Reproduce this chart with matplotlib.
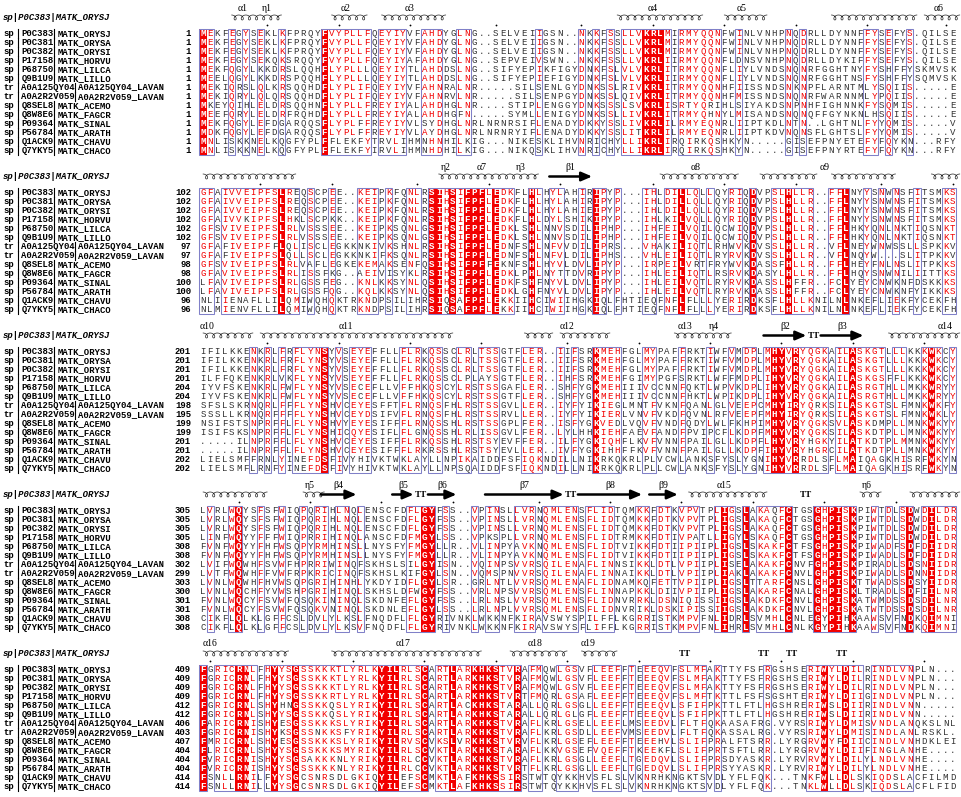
import matplotlib
matplotlib.use('Agg')
import matplotlib.pyplot as plt
from matplotlib.patches import Rectangle
import numpy as np

# ---------------- data ----------------
db = ['sp', 'sp', 'sp', 'sp', 'sp', 'sp', 'tr', 'tr', 'sp', 'sp', 'sp', 'sp', 'sp', 'sp']
acc = ['P0C383', 'P0C381', 'P0C382', 'P17158', 'P68750', 'Q9B1U9', 'A0A125QY04',
       'A0A2R2V059', 'Q8SEL8', 'Q8W8E6', 'P09364', 'P56784', 'Q1ACK9', 'Q7YKY5']
entry = ['MATK_ORYSJ', 'MATK_ORYSA', 'MATK_ORYSI', 'MATK_HORVU', 'MATK_LILCA', 'MATK_LILLO',
         'A0A125QY04_LAVAN', 'A0A2R2V059_LAVAN', 'MATK_ACEMO', 'MATK_FAGCR', 'MATK_SINAL',
         'MATK_ARATH', 'MATK_CHAVU', 'MATK_CHACO']
header = 'sp|P0C383|MATK_ORYSJ'

starts = [
    [1] * 14,
    [102, 102, 102, 102, 102, 102, 97, 97, 98, 98, 100, 100, 96, 96],
    [201, 201, 201, 201, 204, 204, 198, 195, 199, 199, 201, 201, 202, 202],
    [305, 305, 305, 305, 308, 308, 302, 299, 303, 300, 301, 301, 308, 308],
    [409, 409, 409, 409, 412, 412, 406, 403, 407, 404, 404, 404, 414, 414],
]

block1 = [
    "MEKFEGYSEKLKFPRQY" + "FVYPLLFQEYIYVFAHDYGLNG..SELVEIIGSN..NKKFSSLLVK" + "RLMIRMYQQNFWINLVNHPNQDRLLDYNNFFYSEFYS.QILSE",
    "MEKFEGYSEKLKFPRQY" + "FVYPLLFQEYIYVFAHDYGLNG..SELVEIIGSN..NKKFSSLLVK" + "RLMIRMYQQNFWINLVNHPNQDRLLDYNNFFYSEFYS.QILSE",
    "MEKFEGYSEKLKFPRQY" + "FVYPLLFQEYIYVFAHDYGLNG..SELVEIIGSN..NKKFSSLLVK" + "RLMIRMYQQNFWINLVNHPNQDRLLDYNNFFYSEFYS.QILSE",
    "MEKFEGYSEKQKSRQQY" + "FVYPLLFQEYIYAFAHDYGLNG..SEPVEIVSWN..NKKFSSLLVK" + "RLIIRMYQQNFLDNSVNHPNQDRLLDYKIFFYSEFYS.QILSE",
    "MEKFQGYLKKDRSLQQH" + "FLYPLLLQEYIYTLAHDDSLNG..SIFYEPIKFIGYDNKFSLVLVK" + "RLITRMYQQNFLIYLVNDSNQNRFGGHTNYFYSHFFYSKMVSK",
    "MEELQGYLKKDRSPQQH" + "FLYPLLLQEYIYTLAHDDSLNG..SIFYEPIEFIGYDNKFSLVLVK" + "RLIIRMYQQNFLIYLVNDSNQNRFGGHTNSFYSHFFYSQMVSK",
    "MEKIQRSLQLKRSQQHD" + "FLYPLIFQEYIYVFAHNRALNR.....SILSENLGYDNKSSLRIVK" + "RLITRMYQQNHFIISSNDSNKNPFLARNTMLYSQIIS.....E",
    "MEKIQRYLQLQRSQQHD" + "FLYPLIFQEYIYVFAHNRVLNR.....SILSENPGYDNKSSLQIVK" + "RLITRMYQQNHFMISSNDSNQNRFWARNNMLYPQIIS.....E",
    "MKEYQIHLELDRSQQHN" + "FLYPLLFREYIYALAHDHGLNR....STIPLENGGYDNKSSSLSVK" + "RLISRTYQRIHLSIYAKDSNPNHFIGHNNKFYSQMIS.....E",
    "MEEFQRYLELDRFRQHD" + "FLYPLLFREYIYALAHDHGFN.....SYMLLENIGYDNKSSLLIVK" + "RLITRMYQHNYLMISANDSNQNQFFGYNKNLHSQIIS.....E",
    "MEKFQGYLEFDGARQQS" + "FLYPLFFREYIYVLSYDHGLNRLNRNRSIFLENADYDKKYSSLIVK" + "RLILRMYEQNRLIIPTKDLNTN..LGHTNLFYYQMIS.....V",
    "MDKFQGYLEFDGARQQS" + "FLYPLFFREYIYVLAYDHGLNRLNRNRYIFLENADYDKKYSSLITK" + "RLILRMYEQNRLIIPTKDVNQNSFLGHTSLFYYQMIS.....V",
    "MNLISKKNELKQGFYPL" + "FFLEKFYTRVLIHMNHNHILKIG...NIKESKLIHVNRICHYLLIK" + "RLIRQIRKQSHKYN.....GISEFPNYETEFYFQYKN...RFY",
    "MNLISKKNELKQGFYPL" + "FFLEKFYIRVLIHMNHDHILKIG...NIKQSKLIHVNRICHYLLIK" + "RLIRQIRKQSHKYN.....GISEFPNYRTEFYFQYKN...RFY",
]

block2 = [
    "GFAIVVEIPFSLREQSCPEE..KEIPKFQNLRSIHSIFPFLEDKFLHLHYLAHI" + "RIPYP...IHLDILLQLLQYRIQDVPSLHLLR..FFLNYYSNWNSFITSMKS",
    "GFAIVVEIPFSLREQSCPEE..KEIPKFQNLRSIHSIFPFLEDKFLHLHYLAHI" + "RIPYP...IHLDILLQLLQYRIQDVPSLHLLR..FFLNYYSNWNSFITSMKS",
    "GFAIVVEIPFSLREQSCPEE..KEIPKFQNLRSIHSIFPFLEDKFLHLHYLAHI" + "EIPYP...IHLDILLQLLQYRIQDVPSLHLLR..FFLNYYSNWNSFITSMKS",
    "GFAIVVKIPFSLHKLSCPKK..KEIPKFQNLRSIHSIFPFLEDKFLHLDYLSHI" + "KIPYP...IHLKILVQLLQYRIQDVPSLHLLR..FFLNYYSNWNSFITSMKS",
    "GFSVIVEIPFSLRLVSSSEE..KEIPKSQNLGSIHSIFPFLEDKLSHLNNVSDI" + "LIPHP...IHFEILVQILQCWIQDVPSLHLLR..FFLHKYQNLNKTIQSNKT",
    "GFSVIVEIPFSLRLVSSSEE..KEIPKSQNLGSIHSIFPFLEDKLSHLNNVSDI" + "LIPHP...IHFEILVQILQCWIQDVPSLHLLR..FFLHKYQNLNKTIQSNKT",
    "GFAFIVEIPFFLQLISCLEGKKNKIVKSHNLRSIHSIFPFLEDNFSHLNFVVDI" + "LIPRS...VHAKILIQTLRHWVKDVSSLHLLR..VFLNEYWNWSSLLSPKKV",
    "GFAFIVEIPFSLQLLSCLEGKKNKIFKSQNLRSIHSIFPFLEDNFSHLNFVLDI" + "LIPHS...VHLEILIQTLRYRVKDVSSLHLLR..VFLNQYW...SLITPKKV",
    "GFSVIVEIPFSLRLVAFLEGKEKEMAKSENFQSIHSIFPFFEKNFSHLHYVLDV" + "LIPYP...IRPEILVRTFRYWVKDASSFHLLR..FFLHEYFNLNSLITPKKS",
    "GFAVIVEIPFSLRLISSFKG..AEIVISYKLRSIHSIFPFLEDKLPHLNYTTDV" + "RIPYP...IHLEILIQTLRSRVKDASYLHLLR..FFLHQYSNWNILIITTKS",
    "LFAVIVEIPFSLRLGSSFEG..KNLKKSYNLQSIHSIFPFLEDKFSHFNYVLDV" + "LIPYP...IHLEILVQTLRYRVKDASSLHFFR..FCLYEYCNWKNFDSKKKS",
    "LFAVIVEIPFSLRLGSSFQG..KQLKKSYNLQSIHSIFPFLEDKLGHFNYVLDV" + "LIPYP...IHLEILVQTLRYRVKDASSLHFFR..FCLYEYCNWKNFYIKKKS",
    "NLIIENAFLLILQMIWQHQKTRKNDPSILIHRSIQSAFPFLEKKIIHCIWIIHG" + "KIQLFHTIEQFNFLFLLLYERIRDKSFLHLLKNILNLNKEFLIEKFYCEKFH",
    "NLMIENVFLLILQMIWQHQKTRKNDPSILIHRSIQSAFPFLEKKIIHCIWIIHG" + "KIQLFHTIEQFNFLFLLLYERIRDKSFLHLLKNILNLNKEFLIEKFYCEKFH",
]

block3 = [
    "IFILKKENKRLFRFLYNSYVSEYEFFLLFLRKQSSCLRLTSSGTFLER..IIFS" + "RKMEHFGLMYPAFFRKTIWFVMDPLMHYVRYQGKAILASKGTLLLKKKWKCY",
    "IFILKKENKRLFRFLYNSYVSEYEFFLLFLRKQSSCLRLTSSGTFLER..IIFS" + "RKMEHFGLMYPAFFRKTIWFVMDPLMHYVRYQGKAILASKGTLLLKKKWKCY",
    "IFILKKENKRLFRFLYNSYVSEYEFFLLFLRKQSSCLRLTSSGTFLER..IIFS" + "RKMEHFGLMYPAFFRKTIWFVMDPLMHYVRYQGKAILASKGTLLLKKKWKCY",
    "ILFFQKENKRLVKFLYNSYVSEYEFFLLFLRKQSSCLPLAYSGTFLER..IHFS" + "RKMEHFGIMYPGFSRKTLWFFMDPLIHYVRYQGKAILASKGSFFLKKKWKCY",
    "IYVFSKENKRLFWFLYNSYVSECEFLLVFFHKQSCYLRSTSSGAFLER..SHFY" + "GKMEHIIIVCCNNFQKTLWPVKDPLIHYVRYQGKAILASRGTHLLMKKWRYY",
    "IYVFSKENKRLFWFLYNSYVSECEFLLVFFHKQSCYLRSTSSGTFLER..SHFY" + "GKMEHIIIVCCNNFHKTLWPIKDPLIHYVRYQGKAILASRGTHLLMKKWRYY",
    "SFSLSKRNQRLFFFLYNSHVCEYESFFTFLRNQSFHLRSTSSGVLLER..IYFY" + "IKIEGLMNTFVKNFQANLGLVEEPCMHYIRYQRKSILASKGTSLFMNKWKFY",
    "SSSLLKRNQRFFFFLYNSHVCEYDSIFVFLRNQSFHLRSTSSRVLLER..IYFY" + "IKIERLVNVFVKDFQVNLRFVEEPFMHYIRYQRKSILASKGTSLFMNKWKLY",
    "NSIFSTSNPRFFLFLYNSHVYEYESIFFFLRNQSSHLRSTSSGPLFER..ISFY" + "GKVEDLVQVFVNDFQDYLWLFKHPIMHYVRYQGKSVLASKDMPLLMNKWKYY",
    "ISIFSKSNPRFFLFLYNSHICQYESIFLFLGNQSSHLRLISSGVLFER..LYLH" + "HKIEHFAEVFANDFPVIPCFLKDPFMHYVRYQGKSILASKDTPLLMNKWKYY",
    ".....ILNPRFFLFLYNSHVCEYESIFFFLRKQSSHLRSTSYEVFFER..ILFY" + "GKIQHFLKVFVNNFPAILGLLKDPFLHYVRYHGKYILATKDTPLMMNKWKYY",
    ".....ILNPRFFLFLYNSHVCEYESIFFFLRKRSSHLRSTSYEVLLER..IVFY" + "GKIHHFFKVFVNNFPAILGLLKDPFIHYVRYHGRCILATKDTPLLMNKWKYY",
    "LIELSMFFRNLYINEFDSFIVYHIVKTWKLAYLLNPIKAIDDFSFIQKNDILLN" + "IKRKQKRLPLVCWLANKSFYSLYGNIHYVRRDLSFLMAIQAGKHISRFWKYN",
    "LIELSMFLRNFYINEFDSFIVYHIVKTWKLAYLLNPSQAIDDFSFIQKNDILLN" + "IKRKQKRLPLLCWLANKSFYSLYGNIHYVRRDLSFLMAIQAGKHISRFWKYN",
]

block4 = [
    "LVRLWQYSFSFWIQPQRIHLNQLENSCFDFLGYFSS..VPINSLLVRNQMLENS" + "FLIDTQMKKFDTKVPVTPLIGSLAKAQFCTGSGHPISKPIWTDLSDWDILDR",
    "LVRLWQYSFSFWIQPQRIHLNQLENSCFDFLGYFSS..VPINSLLVRNQMLENS" + "FLIDTQMKKFDTKVPVTPLIGSLAKAQFCTGSGHPISKPIWTDLSDWDILDR",
    "LVRLWQYSFSFWIQPQRIHLNQLENSCFDFLGYFSS..VPINSLLVRNQMLENS" + "FLIDTQMKKFDTKVPVTPLIGSLAKAQFCTGSGHPISKPIWTDLSDWDILDR",
    "LINFWQYYFFFWIQPRRIHINQLANSCFDFMGYLSS..VPKSPLLVRNQMLENS" + "FLIDTRMKKFDTIVPATLLIGYLSKAQFCTGSGHPISKPIWTDLSDWDILDR",
    "FVNFWQYYFHFWSQPYRMHINSLLNYSFYFMGYLLR..VLINPYAVKNQMLENS" + "FLIDTVIKKFDTIIPIIPLIGSLSKAKFCTFSGHPISKPIWADFSDFDIIDR",
    "FVNFWQYYFHFWSQPYRMHINSLLNYSFYFMGYLLR..VLINPYAVKNQMLENS" + "FLIDTVIKKFDTIIPIIPLIGSLSKAKFCTFSGHPISKPIWADLSDFDIIDR",
    "LVIFWQWHFSVWFHPRRIWINQFSKHSLSILGYISN..VQINPSVVRSQILENA" + "FLINNSIKKLDTLVPIIPLISELAKAKFCNVFGHPISKPIRADLSDSNIIDR",
    "LVTFWQWHFFVWFRPKRICINQFSKHSLKIFGYLSN..VQMSPNVVRSQILENA" + "FLINNAIKKLDTLVPIIPLIAKLAKAKFCNVLGHPISKPIWADLSDNNIIDR",
    "LVNLWQWHFHVWSQPGRIHINHLYKDYIDFLGYLSR..GRLNTLVVRSQMLENA" + "FLIDNAMKQFETTVPIIPLIGSLTTARFCNSLGHPISKTTWADSSDSYIIDR",
    "LVNLWQCHFYVWSHPGRIHINQLSKHSLDFWGYFSS..VRLNPSVVRSQMLENS" + "FLINNAPKKLDIIVPIIPLIGSLAKARFCNALGHPISKLTRADLSDFIILNR",
    "FVNLWQCYFSVWFQSQKININQLSKDNFEFLGYFSS..LRLNSLVVRSQMLENS" + "FLIDNVRRKLDSNIQISSIIGSLAKDKFCNVLGHPISKATWMDSSDSDILNR",
    "FVNLWQCYFSVWFQSQKVNINQLSKDNLEFLGYLSS..LRLNPLVVRSQMLENS" + "FLIDNVRIKLDSKIPISSIIGSLAKDKFCNVLGHPISKATWTDSSDSDILNR",
    "CIKFLQLKLGFFCSLDVLYLKSLFNQDFLFLGYRIVNKLWKKNFKIRAVSWYSP" + "ILFFLKGRRISTKMPVFNLIDRLSVMHLCNLEGYPIHKAAWSVFNDKQIMNI",
    "CIKFLQLKLGFFCSLDVLYLKSVFNQDFLFLGYRIVNKLWKKNFKIRAVSWYSF" + "LIFFLKGRRISTKMPVFNLIHRLSVMHLCNLKGYPIHKAAWSVFNDKQIMNI",
]

block5 = [
    "FGRICRNLFHYYSGSSKKKTLYRLKYILRLSCARTLARKHKSTVRAFMQWLGSV" + "FLEEFFTEEEQVFSLMFAKTTYFSFRGSHSERIWYLDILRINDLVNPLN...",
    "FGRICRNLFHYYSGSSKKKTLYRLKYILRLSCARTLARKHKSTVRAFMQWLGSV" + "FLEEFFTEEEQVFSLMFAKTTYFSFRGSHSERIWYLDILRINDLVNPLN...",
    "FGRICRNLFHYYSGSSKKKTLYRLKYILRLSCARTLARKHKSTVRAFMQWLGSV" + "FLEEFFTEEEQVFSLMFAKTTYFSFRGSHSERIWYLDILRINDLVNPLN...",
    "FGRICRNLFHYYSGSSKKRTLYRLKYILRLSCARTLARKHKSTVRTFMQRLGSA" + "FLEEFFTEEEQVFSLMFTKTTLFSFSGSHTERIWYLDIIGINDLVNPLN...",
    "FGRICRNLSHYHNGSSKKQSLYRIKYILRLSCARTLACKHKSTARALLQRLGSG" + "LLEEFFTEEEQVLSFIFPKTTLFTLHGSHRERIWSLDIIRINDLVNN.....",
    "FGRICRNLSHYYSGSSKKQSLYRIKYILRLSCARTLARKHKSTARALLQRLGLG" + "FLEEFFTEEEQVLSFIFPKTTLFTLHGSHRERIWSLDIIRINDLVNN.....",
    "FARICRNISHYESGSSKKKSLYRIKYILRLSCARTLARKHKSTVRAFLKRLGSE" + "LLEEFLMSEEDVLFLTFQKAASAFRG.VYRSRIWYLDMISVNDLANQKSLNL",
    "FGRICRNISHYKSGSSNKKSFYRIKYILRLSCARTLARKHKSTVRAFLKRLGSD" + "LLEEFVMSEEDVLFLTFQKASSALRG.VYRSRIWYLDMISINDLANLRSKL.",
    "FMRICRNLSHYESGSSKKKSLYRIKYILRVSCVKSLVRKHKSTVRVFLKRLGSE" + "FLEEFFTEEEHVLSLIFPRALFTSRR.LYRGRVWYFDIICINDLVNHDKLEI",
    "FLRICRNLSHYYSGSSKKKSMYRIKYILRLSCVKTLARKHKSTARAFLKKVGSE" + "FVQEFFTKEEKFLSLIFPRTSFTLRR.LYRGRVWYLDIIFINGLANHE....",
    "FVRICRNISHYYSGSAKKKNLYRIKYILRLCCVKTLARKHKSTVRAFLKRLGSG" + "LLEEFLTGEDQVLSLIFPRSDYASKR.LYRVRVWYLDILYLNDLVNHE....",
    "FVRICRNISHYYSGSSKKKNLYRIKYILRLCCVKTLARKHKSTVRTFLKRLGSG" + "LLEEFLTGEDQVLSLIFPRSYYASKR.LYRVRIWYLDILYLNDLVNHE....",
    "FSNLLRNILFYYSGCSNRSDLGKIQYILEFSCMKTLAFKHKSSIRSTWTQYKKH" + "VSFLSLVKNRHKNGKTSVDLYFLFQK...TNKFWLLDLSKIQDSLACFILMD",
    "FSNLLRNILLYYSGCSNRSDLGKIQYILEFSCMKTLAFKHKSSIRSTWTQYKKH" + "VSFLSLVKNRHKNGKTSVDLYFLFQK...TNKLWLLDLSKIQDSLACFLFID",
]

blocks = [block1, block2, block3, block4, block5]

# secondary structure of the reference: (type, first column, last column, label, label column)
# H = alpha helix, G = 3-10 helix, E = strand, T = turn
ss1 = [('H', 4, 7, 'α1', None), ('G', 8, 10, 'η1', None), ('H', 18, 22, 'α2', None),
       ('H', 25, 33, 'α3', None), ('H', 58, 69, 'α4', 63), ('H', 73, 78, 'α5', None),
       ('H', 88, 99, '', None), ('H', 101, 105, 'α6', None)]
ss2 = [('H', 0, 12, '', None), ('G', 33, 35, 'η2', None), ('H', 36, 42, 'α7', None),
       ('G', 43, 46, 'η3', None), ('E', 49, 54, 'β1', None), ('H', 64, 74, 'α8', None),
       ('H', 78, 85, '', None), ('H', 88, 96, 'α9', 87), ('H', 102, 105, '', None)]
ss3 = [('H', 0, 6, 'α10', 0.5), ('H', 8, 34, 'α11', 20), ('H', 45, 48, '', None),
       ('H', 50, 56, 'α12', 51), ('H', 66, 69, 'α13', None), ('G', 70, 73, 'η4', None),
       ('E', 79, 84, 'β2', None), ('T', 85, 86, '', None), ('E', 87, 92, 'β3', None),
       ('H', 96, 105, 'α14', 104)]
ss4 = [('H', 0, 8, '', None), ('G', 14, 16, 'η5', None), ('E', 17, 21, 'β4', None),
       ('E', 27, 29, 'β5', None), ('T', 30, 31, '', None), ('E', 32, 35, 'β6', None),
       ('E', 40, 50, 'β7', None), ('T', 51, 52, '', None), ('E', 53, 61, 'β8', None),
       ('E', 63, 66, 'β9', None), ('H', 68, 78, 'α15', None), ('T', 84, 85, '', None),
       ('G', 92, 94, 'η6', None), ('H', 99, 105, '', None)]
ss5 = [('H', 0, 11, 'α16', 1), ('H', 18, 38, 'α17', None), ('H', 43, 50, 'α18', None),
       ('H', 53, 57, 'α19', 54), ('T', 67, 68, '', None), ('T', 78, 79, '', None),
       ('T', 82, 83, '', None), ('T', 89, 90, '', None)]
ss_blocks = [ss1, ss2, ss3, ss4, ss5]

groups = ['ILMV', 'FYW', 'KRH', 'DENQ', 'ST', 'AG', 'C', 'P']
SIM_THRESHOLD = 0.7

# ---------------- layout / style ----------------
W, H = 962, 797
X0 = 203.0        # centre of first alignment column
CW = 7.14         # column width
Y0 = 33.5         # first sequence row of first block
BH = 159.0        # block pitch
RH = 9.0          # row pitch
RED = '#f20000'
FRAME = '#8080c8'
MONO = 'Liberation Mono'
SERIF = 'Liberation Serif'
FS = 6.6
NFS = 6.4

fig = plt.figure(figsize=(W / 100, H / 100), dpi=100)
ax = fig.add_axes([0, 0, 1, 1])
ax.set_xlim(0, W)
ax.set_ylim(H, 0)
ax.axis('off')


def grp(ch):
    for i, g in enumerate(groups):
        if ch in g:
            return i
    return -1


def colx(c):
    return X0 + c * CW


def draw_helix(xs, xe, yc):
    n = max(1, int(round((xe - xs) / CW)))
    th = np.linspace(0, 2 * np.pi * n, 60 * n)
    r = (xe - xs) / (2 * np.pi * n)
    d = 2.6
    x = xs + r * (th + np.pi) - d * np.sin(th + np.pi)
    y = yc + 2.5 * np.cos(th + np.pi)
    ax.plot(x, y, color='#222222', lw=0.5, solid_capstyle='round')


for b, block in enumerate(blocks):
    nrow = len(block)
    ncol = max(len(s) for s in block)
    y_first = Y0 + b * BH
    rows_y = [y_first + r * RH for r in range(nrow)]
    y_top = rows_y[0] - RH / 2 - 0.3
    y_bot = rows_y[-1] + RH / 2 + 0.3

    # column conservation
    status = []
    best = []
    for c in range(ncol):
        chars = [s[c] if c < len(s) else '.' for s in block]
        if chars[0] != '.' and all(ch == chars[0] for ch in chars):
            status.append(2)
            best.append(grp(chars[0]))
            continue
        counts = {}
        for ch in chars:
            g = grp(ch)
            if g >= 0:
                counts[g] = counts.get(g, 0) + 1
        if counts:
            g, n = max(counts.items(), key=lambda kv: kv[1])
            if n / nrow >= SIM_THRESHOLD:
                status.append(1)
                best.append(g)
                continue
        status.append(0)
        best.append(-1)

    def runs(pred):
        out = []
        c = 0
        while c < ncol:
            if pred(status[c]):
                s = c
                while c + 1 < ncol and pred(status[c + 1]):
                    c += 1
                out.append((s, c))
            c += 1
        return out

    for s, e in runs(lambda v: v == 2):
        ax.add_patch(Rectangle((colx(s) - CW / 2, y_top), (e - s + 1) * CW, y_bot - y_top,
                               facecolor=RED, edgecolor='none', zorder=1))
    for s, e in runs(lambda v: v >= 1):
        ax.add_patch(Rectangle((colx(s) - CW / 2, y_top), (e - s + 1) * CW, y_bot - y_top,
                               facecolor='none', edgecolor=FRAME, lw=0.75, zorder=2))

    # residues
    for r, seq in enumerate(block):
        y = rows_y[r]
        for c, ch in enumerate(seq):
            if status[c] == 2:
                col, wt = 'white', 'bold'
            elif status[c] == 1 and grp(ch) == best[c]:
                col, wt = RED, 'normal'
            else:
                col, wt = '#333333', 'normal'
            ax.text(colx(c), y, ch, fontsize=FS, family=MONO, color=col, weight=wt,
                    ha='center', va='center', zorder=3)

    # names and numbers
    for r in range(nrow):
        y = rows_y[r]
        ax.text(3, y, db[r], fontsize=NFS, family=MONO, weight='bold', ha='left', va='center')
        ax.plot([18.5, 18.5], [y - RH / 2, y + RH / 2], color='black', lw=0.8)
        ax.text(21.5, y, acc[r], fontsize=NFS, family=MONO, weight='bold', ha='left', va='center')
        xb = 21.5 + len(acc[r]) * 5.3 + 1.0
        ax.plot([xb, xb], [y - RH / 2, y + RH / 2], color='black', lw=0.8)
        ax.text(xb + 3.0, y, entry[r], fontsize=NFS, family=MONO, weight='bold', ha='left', va='center')
        ax.text(191, y, str(starts[b][r]), fontsize=NFS, family=MONO, weight='bold',
                ha='right', va='center')

    # header, secondary structure, decade dots
    y_coil = y_first - 16
    y_dot = y_first - 9
    y_lab = y_first - 25.5
    ax.text(3, y_coil, header, fontsize=NFS, family=MONO, weight='bold', style='italic',
            ha='left', va='center')

    pos = starts[b][0]
    for c, ch in enumerate(block[0]):
        if ch != '.':
            if pos % 10 == 0:
                ax.plot(colx(c), y_dot, marker='o', ms=1.3, color='black', mec='none')
            pos += 1

    for kind, s, e, lab, lc in ss_blocks[b]:
        xs = colx(s) - CW / 2
        xe = colx(e) + CW / 2
        if kind in ('H', 'G'):
            draw_helix(xs, xe, y_coil)
        elif kind == 'E':
            ax.annotate('', xy=(xe, y_coil), xytext=(xs, y_coil),
                        arrowprops=dict(arrowstyle='-|>,head_length=0.7,head_width=0.3',
                                        lw=1.8, color='black', shrinkA=0, shrinkB=0,
                                        mutation_scale=9))
        elif kind == 'T':
            ax.text((xs + xe) / 2, y_coil, 'TT', fontsize=6.5, family=SERIF, weight='bold',
                    ha='center', va='center')
        if lab:
            lx = colx(lc) if lc is not None else (xs + xe) / 2
            ax.text(lx, y_lab, lab, fontsize=7, family=SERIF, ha='center', va='center')

fig.savefig('out.png', dpi=100)
